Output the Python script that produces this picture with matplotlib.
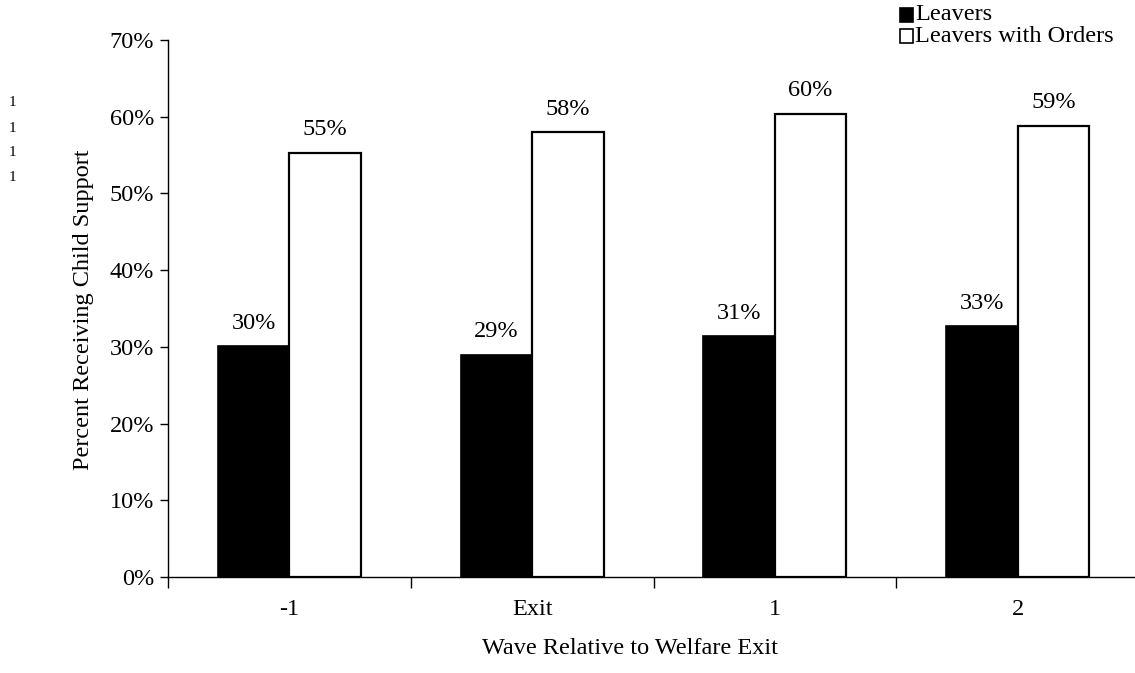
import matplotlib
matplotlib.use("Agg")
import matplotlib.pyplot as plt
from matplotlib.patches import Rectangle
import numpy as np

plt.rcParams['font.family'] = ['Liberation Serif', 'DejaVu Serif']

categories = ["-1", "Exit", "1", "2"]
leavers = [30.1, 29.0, 31.4, 32.7]
leavers_orders = [55.3, 58.0, 60.4, 58.8]
series_names = ["Leavers", "Leavers with Orders"]

FS = 17.5
W, H = 1135, 673
fig = plt.figure(figsize=(W / 100, H / 100), dpi=100)
ax = fig.add_axes([168 / W, (H - 577) / H, (1139 - 168) / W, (577 - 40) / H])

x = np.arange(len(categories))
bw = 0.295
b1 = ax.bar(x - bw / 2, leavers, bw, color='black', edgecolor='black', linewidth=1.2)
b2 = ax.bar(x + bw / 2, leavers_orders, bw, color='white', edgecolor='black', linewidth=1.6)

for bars, vals in ((b1, leavers), (b2, leavers_orders)):
    for rect, v in zip(bars, vals):
        ax.annotate(f"{v:.0f}%", (rect.get_x() + rect.get_width() / 2, v),
                    xytext=(0, 9), textcoords='offset points',
                    ha='center', va='bottom', fontsize=FS)

ax.set_xlim(-0.5, len(categories) - 0.5)
ax.set_ylim(0, 70)
ax.set_yticks(np.arange(0, 71, 10))
ax.set_yticklabels([f"{t}%" for t in range(0, 71, 10)], fontsize=FS)
ax.set_xticks(x)
ax.set_xticklabels(categories, fontsize=FS)
ax.set_xticks(np.arange(-0.5, len(categories)), minor=True)
ax.tick_params(axis='x', which='major', length=0, pad=16)
ax.tick_params(axis='x', which='minor', length=8, direction='out', width=1)
ax.tick_params(axis='y', length=6, direction='out', width=1, pad=4)

for s in ('top', 'right'):
    ax.spines[s].set_visible(False)
ax.spines['left'].set_linewidth(1)
ax.spines['bottom'].set_linewidth(1)

fig.text(84 / W, 1 - 310 / H, "Percent Receiving Child Support", rotation=90,
         ha='center', va='center', fontsize=FS)
fig.text(630 / W, 1 - 648 / H, "Wave Relative to Welfare Exit", ha='center', va='center',
         fontsize=FS)

# legend drawn as square swatches with labels
sw = 13
for i, (name, fc) in enumerate(zip(series_names, ['black', 'white'])):
    cy = 15 + i * 21
    fig.patches.append(Rectangle((900 / W, 1 - (cy + sw / 2) / H), sw / W, sw / H,
                                 transform=fig.transFigure, facecolor=fc,
                                 edgecolor='black', linewidth=1.2))
    fig.text(915 / W, 1 - cy / H, name, ha='left', va='center', fontsize=FS)

for yy in (103, 128, 153, 178):
    fig.text(12 / W, 1 - yy / H, "1", fontsize=11, ha='center', va='center')

fig.savefig("out.png", dpi=100)
